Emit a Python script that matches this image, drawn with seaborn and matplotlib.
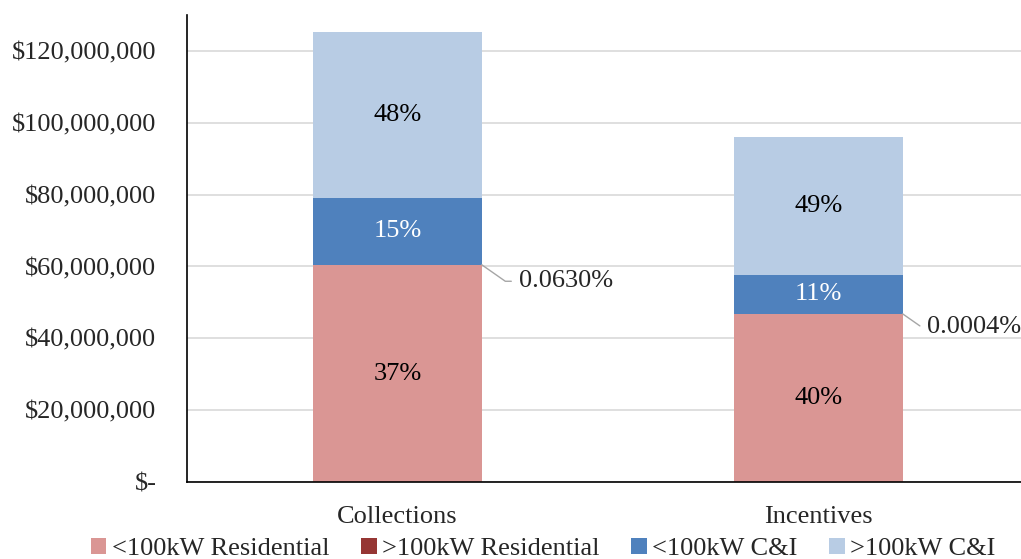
import numpy as np
import pandas as pd
import seaborn as sns
import matplotlib.pyplot as plt
from matplotlib.patches import Patch

sns.set_theme(style="white")
plt.rcParams['font.family'] = ['Liberation Serif', 'DejaVu Serif']

# data
categories = ["Collections", "Incentives"]
series = ["<100kW Residential", ">100kW Residential", "<100kW C&I", ">100kW C&I"]
res_small = [60.4e6, 46.8e6]
res_large = [0.079e6, 0.0004e6]
ci_small = [18.6e6, 10.9e6]
ci_large = [46.3e6, 38.4e6]
pct_labels = [["37%", "0.0630%", "15%", "48%"],
              ["40%", "0.0004%", "11%", "49%"]]
yticks = [0, 20e6, 40e6, 60e6, 80e6, 100e6, 120e6]
ytick_labels = ["$-", "$20,000,000", "$40,000,000", "$60,000,000",
                "$80,000,000", "$100,000,000", "$120,000,000"]

colors = ["#DA9694", "#963634", "#4F81BD", "#B8CCE4"]
text_colors = ["black", "black", "white", "black"]
fs = 19

df = pd.DataFrame({"cat": categories, series[0]: res_small, series[1]: res_large,
                   series[2]: ci_small, series[3]: ci_large})
cum = df[series].cumsum(axis=1)

fig = plt.figure(figsize=(10.21, 5.59), dpi=100)
ax = fig.add_axes([187 / 1021, 1 - 482 / 559, 842 / 1021, 467 / 559])

# stacked bars: draw cumulative totals from the top down
for i in range(3, -1, -1):
    sns.barplot(x=df["cat"], y=cum[series[i]], color=colors[i], width=0.4,
                saturation=1, linewidth=0, ax=ax, zorder=2)

ax.set_xlim(-0.5, 1.5)
ax.set_ylim(0, 130e6)
ax.set_yticks(yticks)
ax.set_yticklabels(ytick_labels, fontsize=fs)
ax.tick_params(axis="x", labelsize=fs, pad=17, length=0)
ax.tick_params(axis="y", pad=22, length=0)
ax.set_xlabel("")
ax.set_ylabel("")
ax.yaxis.grid(True, color="#D9D9D9", linewidth=1.2, zorder=0)
ax.set_axisbelow(True)
for s in ["top", "right"]:
    ax.spines[s].set_visible(False)
for s in ["left", "bottom"]:
    ax.spines[s].set_color("black")
    ax.spines[s].set_linewidth(1.2)

# leader-line offsets for the tiny >100kW Residential labels (x in bar units, y in $)
leader_dx = [0.088, 0.058]
leader_dy = [4.6e6, 3.7e6]

# segment labels
for j, cat in enumerate(categories):
    bottoms = [0] + list(cum.iloc[j, :3])
    for i in range(4):
        if i == 1:
            top = cum.iloc[j, 1]
            x0 = j + 0.2
            ax.annotate(pct_labels[j][i], xy=(x0, top), xycoords="data",
                        xytext=(x0 + leader_dx[j], top - leader_dy[j]), textcoords="data",
                        fontsize=fs, va="center", ha="left",
                        arrowprops=dict(arrowstyle="-", color="#A6A6A6", lw=1,
                                        connectionstyle="angle,angleA=0,angleB=-35,rad=0",
                                        shrinkA=3, shrinkB=0))
            continue
        mid = bottoms[i] + df[series[i]].iloc[j] / 2
        ax.text(j, mid, pct_labels[j][i], ha="center", va="center",
                fontsize=fs, color=text_colors[i])

handles = [Patch(facecolor=c, edgecolor="none") for c in colors]
fig.legend(handles, series, loc="lower center", bbox_to_anchor=(0.532, -0.045),
           ncol=4, frameon=False, fontsize=fs, handlelength=0.6,
           handleheight=0.6, handletextpad=0.2, columnspacing=1.2)

plt.savefig("out.png", dpi=100)
